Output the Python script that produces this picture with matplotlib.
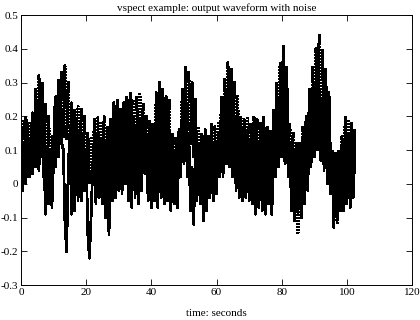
import numpy as np
import matplotlib
matplotlib.use("Agg")
import matplotlib.pyplot as plt

# sample spacing (seconds)
dt = 0.5

# dotted series (output waveform with noise)
dotted = [
    0.05, 0.19, 0.07, 0.20, 0.06, 0.18, 0.08, 0.21, 0.09,
    0.28, 0.13, 0.32, 0.14, 0.30,
    0.02, 0.24, 0.00, 0.20,
    0.01, 0.14, 0.03,
    0.26, 0.12, 0.31, 0.15, 0.33,
    0.14, 0.35, 0.13, 0.30,
    0.03, 0.24, 0.01, 0.22, 0.04, 0.23,
    0.02, 0.22, 0.05, 0.20,
    0.03, 0.15, 0.00, 0.14, 0.02,
    0.19, -0.02, 0.20, 0.01, 0.18, -0.01,
    0.20, 0.00, 0.17, -0.03, 0.19, 0.02,
    0.24, 0.03, 0.25, 0.05, 0.22, 0.02, 0.24, 0.04,
    0.26, 0.06, 0.27, 0.03, 0.25, 0.05, 0.26, 0.07, 0.27, 0.05, 0.24, 0.08,
    0.20, 0.02, 0.19, -0.01, 0.18,
    0.04, 0.27, 0.06, 0.30, 0.05, 0.28, 0.03, 0.26, 0.06, 0.25,
    0.02, 0.15, -0.02, 0.14, 0.00, 0.16,
    0.10, 0.28, 0.14, 0.35, 0.16, 0.33, 0.12, 0.30, 0.08, 0.25, 0.03,
    0.17, -0.04, 0.15, -0.11, 0.16, -0.08, 0.14, -0.03,
    0.18, 0.00, 0.17, 0.02, 0.18, 0.05,
    0.26, 0.10, 0.31, 0.14, 0.36, 0.15, 0.34, 0.12, 0.30, 0.08, 0.26, 0.05,
    0.20, 0.01, 0.19, -0.02, 0.20, 0.00, 0.18, -0.01,
    0.20, -0.03, 0.19, -0.06, 0.18, -0.02, 0.20, -0.05, 0.17, -0.04, 0.16, -0.02,
    0.22, 0.08, 0.30, 0.12, 0.36, 0.18, 0.41, 0.15, 0.35, 0.10,
    0.18, 0.00, 0.15, -0.08, 0.12, -0.15, 0.10, -0.10,
    0.17, -0.03, 0.20, 0.00,
    0.28, 0.10, 0.35, 0.15, 0.40, 0.18, 0.44, 0.17, 0.40, 0.15, 0.34, 0.10, 0.27, 0.05,
    0.10, -0.08, 0.09, -0.12, 0.10, -0.06, 0.14,
    -0.02, 0.20, 0.00, 0.19, -0.03, 0.18, 0.01, 0.16,
]

# solid series
solid = [
    0.14, -0.02, 0.12, 0.00, 0.15, 0.02, 0.13, 0.03, 0.16,
    0.05, 0.22, 0.04, 0.20, 0.08,
    0.12, -0.09, 0.10, -0.06,
    0.10, -0.07, 0.12,
    0.05, 0.26, 0.08, 0.30, 0.12,
    0.10, -0.12, -0.20, 0.05,
    0.15, -0.09, 0.14, -0.08, 0.16, -0.05,
    0.16, -0.05, 0.15, -0.02,
    0.10, -0.15, -0.22, -0.10, 0.05,
    0.14, -0.06, 0.15, -0.04, 0.13, -0.06,
    0.12, -0.10, 0.05, -0.15, 0.10, -0.05,
    0.18, -0.04, 0.20, -0.02, 0.17, -0.03, 0.19, 0.00,
    0.20, -0.05, 0.18, -0.07, 0.20, -0.04, 0.17, -0.06, 0.19, -0.02, 0.20, 0.03,
    0.14, -0.05, 0.12, -0.07, 0.13,
    -0.05, 0.20, -0.07, 0.22, -0.04, 0.20, -0.06, 0.18, -0.05, 0.16,
    -0.08, 0.12, -0.06, 0.10, -0.07, 0.13,
    0.02, 0.24, 0.06, 0.28, 0.02, 0.15, -0.08, 0.05, -0.12, 0.10, -0.05,
    0.12, -0.06, 0.10, -0.09, 0.12, -0.05, 0.13, -0.04,
    0.14, -0.05, 0.12, -0.03, 0.15, 0.02,
    0.20, 0.02, 0.25, 0.06, 0.28, 0.05, 0.24, 0.02, 0.20, -0.02, 0.18, -0.04,
    0.15, -0.05, 0.14, -0.04, 0.16, -0.05, 0.13, -0.06,
    0.14, -0.09, 0.12, -0.07, 0.15, -0.08, 0.13, -0.09, 0.12, -0.06, 0.14, -0.09,
    0.15, 0.02, 0.22, 0.05, 0.28, 0.08, 0.30, 0.06, 0.24, 0.02,
    0.12, -0.08, 0.10, -0.11, 0.08, -0.09, 0.12, -0.06,
    0.14, -0.06, 0.15, -0.02,
    0.20, 0.05, 0.28, 0.08, 0.30, 0.10, 0.28, 0.07, 0.25, 0.04, 0.22, 0.00, 0.18, -0.03,
    0.06, -0.13, 0.05, -0.11, 0.08, -0.08, 0.12,
    -0.08, 0.16, -0.06, 0.15, -0.07, 0.14, -0.04, 0.12,
]

xticks = [0, 20, 40, 60, 80, 100, 120]
yticks = [-0.3, -0.2, -0.1, 0, 0.1, 0.2, 0.3, 0.4, 0.5]
ytick_labels = ["-0.3", "-0.2", "-0.1", "0", "0.1", "0.2", "0.3", "0.4", "0.5"]

plt.rcParams['font.family'] = ['Liberation Serif', 'DejaVu Serif']

fig = plt.figure(figsize=(4.2, 3.2), dpi=100)
ax = fig.add_axes([0.05, 0.109, 0.931, 0.844])

t_d = np.arange(len(dotted)) * dt
t_s = np.arange(len(solid)) * dt
ax.plot(t_s, solid, color='black', linewidth=1.3, linestyle='-', antialiased=False)
ax.plot(t_d, dotted, color='black', linewidth=1.2, linestyle=(0, (1.2, 0.8)),
        antialiased=False)

ax.set_xlim(0, 120)
ax.set_ylim(-0.3, 0.5)
ax.set_xticks(xticks)
ax.set_xticklabels([str(v) for v in xticks])
ax.set_yticks(yticks)
ax.set_yticklabels(ytick_labels)
ax.tick_params(direction='in', top=True, right=True, length=4, width=0.6,
               labelsize=8, pad=2)
for s in ax.spines.values():
    s.set_linewidth(0.7)

ax.set_title("vspect example: output waveform with noise", fontsize=8, pad=3)
ax.set_xlabel("time: seconds", fontsize=8, labelpad=9)

fig.savefig("out.png", dpi=100)
